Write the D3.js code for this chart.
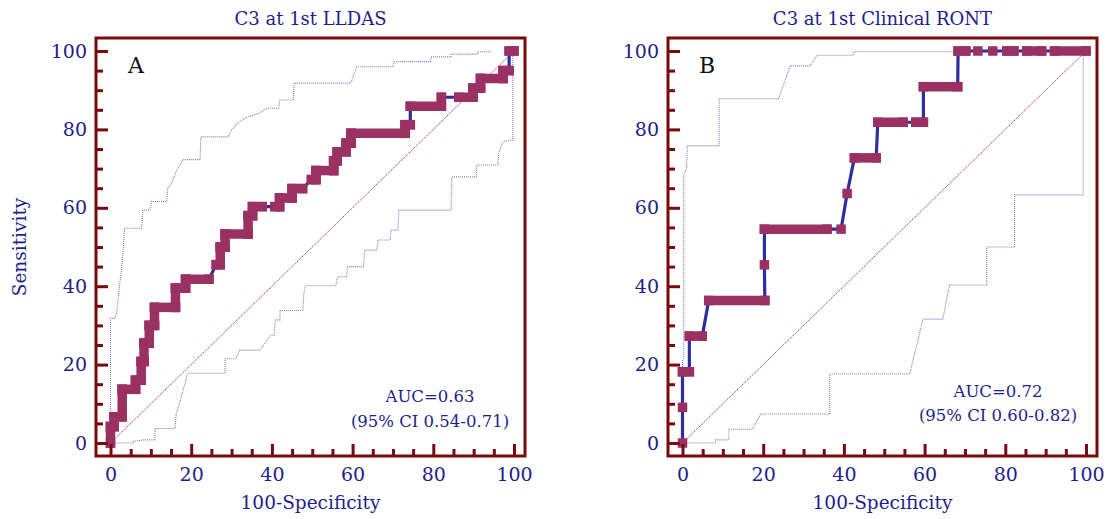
<!DOCTYPE html>
<html>
<head>
<meta charset="utf-8">
<script src="https://cdn.jsdelivr.net/npm/d3@7"></script>
<style>
  body { margin: 0; background: #fff; }
  svg text { font-family: "DejaVu Serif", serif; }
</style>
</head>
<body>
<svg id="chart" width="1107" height="519"></svg>
<script>
// Datos
const titles = ["C3 at 1st LLDAS", "C3 at 1st Clinical RONT"];
const letters = ["A", "B"];
const aucText = [["AUC=0.63", "(95% CI 0.54-0.71)"], ["AUC=0.72", "(95% CI 0.60-0.82)"]];
const majorTicks = [0, 20, 40, 60, 80, 100];
const minorTicks = [5, 10, 15, 25, 30, 35, 45, 50, 55, 65, 70, 75, 85, 90, 95];

// curva ROC: [100-especificidad, sensibilidad, tramo cubierto por marcadores]
const rocA = [
  [0,0,0],[0,4.2,1],[0.9,4.2,1],[0.9,6.7,1],[2.9,6.7,1],[2.9,13.7,1],[6.2,13.7,1],
  [6.2,16,1],[7.6,16,1],[7.6,20.8,1],[8.3,20.8,1],[8.3,25.5,1],[9.6,25.5,1],[9.6,30,1],
  [10.9,30,1],[10.9,34.6,1],[16.1,34.6,1],[16.1,39.5,1],[18.6,39.5,1],[18.6,41.8,1],
  [24.4,41.8,1],[26.2,45.5,0],[27.2,45.5,1],[27.2,50,1],[28.4,50,1],[28.4,53.3,1],
  [34.1,53.3,1],[34.1,58,1],[35.2,58,1],[35.2,60.3,1],[37.6,60.3,1],[40.7,60.3,0],
  [41.9,60.3,1],[41.9,62.5,1],[45,62.5,1],[45,64.9,1],[47.6,64.9,1],[49.8,67.2,0],
  [50.9,67.2,1],[50.9,69.5,1],[55.3,69.5,1],[55.3,72,1],[56.2,72,1],[56.2,74.3,1],
  [58.4,74.3,1],[58.4,76.5,1],[59.6,76.5,1],[59.6,79,1],[73,79,1],[73,81.2,1],
  [74.3,81.2,1],[74.3,85.9,0],[82,85.9,1],[82,88.2,1],[86.3,88.2,0],[89.8,88.2,1],
  [89.8,90.5,1],[91.7,90.5,1],[91.7,93,1],[97.3,93,1],[97.3,95,1],[98.8,95,1],
  [98.8,100,0],[100,100,1]
];
const ciUpA = [
  [0,0],[0,31.8],[1.1,31.8],[1.5,33],[2.3,40.7],[2.8,45],[3.2,50],[3.5,54.8],[7.7,54.8],
  [8,59.4],[9.7,59.4],[10.2,61.6],[13.9,61.6],[14.2,65],[15,66],[16.4,69.6],[17.2,71],
  [17.9,72.3],[22.2,72.3],[22.4,78.1],[29.2,78.1],[30,79.8],[31.5,81.6],[34,83.2],
  [37,84.2],[38.8,85.4],[41.6,85.4],[42,87.5],[45.3,87.5],[45.5,91.8],[59.5,91.8],
  [60,93],[61,96],[70,96],[70.3,97.3],[79.4,97.3],[79.4,98.5],[84.4,98.5],[84.4,99.2],
  [91,99.2],[91,99.8],[94.3,99.8]
];
const ciLoA = [
  [0,0],[5.6,0],[5.6,0.4],[8,0.8],[11,0.8],[11,3.7],[16,3.7],[16.3,7.6],[16.7,8.8],
  [17.3,11],[17.8,12.7],[19,17.3],[19.2,17.8],[28.4,17.8],[28.4,21.5],[30.9,21.5],
  [31.5,22.4],[32,23.7],[37,23.7],[38,25],[39.6,27.5],[40.6,27.5],[40.8,31.4],
  [42,31.4],[42,33.8],[47.7,33.8],[47.9,38],[48.3,40.1],[55.8,40.1],[56.3,42.4],
  [58.5,42.4],[58.7,45],[62.7,45],[63,49.2],[66,49.2],[66.3,51.8],[69.3,51.8],
  [69.5,54.3],[71.2,54.3],[71.5,59.4],[84.4,59.4],[84.6,67.9],[90.6,67.9],[90.8,70.9],
  [96,70.9],[96.2,73.9],[97.3,76.9],[99.7,77.3],[99.7,99],[100,100]
];

const rocB = [
  [0,0,0],[0,9.09,0],[0,18.18,0],[1.7,18.18,1],[1.7,27.27,0],[4.9,27.27,1],
  [6.5,36.36,0],[20.4,36.36,1],[20.3,45.45,0],[20.3,54.55,0],[35.8,54.55,1],
  [39.3,54.55,0],[40.8,63.64,0],[42.6,72.73,0],[48,72.73,1],[48.4,81.82,0],
  [54.7,81.82,1],[57.8,81.82,0],[59.7,81.82,1],[59.7,90.91,0],[68.2,90.91,1],
  [68.3,100,0],[70.2,100,1],[73.2,100,0],[76.9,100,0],[80.4,100,0],[82.1,100,1],
  [85.3,100,0],[89,100,1],[92.2,100,0],[100,100,1]
];
const ciUpB = [
  [0,0],[0,21],[0.3,22],[0.3,68.4],[1,70],[1.2,75.8],[9.1,75.8],[9.1,87.8],[23.8,87.8],
  [26.7,96.2],[31.6,96.2],[33.3,98.9],[42.3,98.9],[42.5,99.8],[67,99.8],[100,100]
];
const ciLoB = [
  [0,0],[8.2,0],[8.2,0.8],[11.5,0.8],[11.5,3.5],[17.3,3.5],[19.4,7.4],[36.5,7.4],
  [36.5,17.6],[56.3,17.6],[59.6,31.6],[64.5,31.6],[66.2,40.3],[75.4,40.3],[75.4,50],
  [82.3,50],[82.3,63.3],[99.3,63.3],[99.3,99.4],[100,100]
];

// Colores
const frameColor = "#7a0a0a",
      navy = "#1e1e8c",
      curveBlue = "#2e2f9c",
      markColor = "#9b3162",
      ciColor = "#7c7cc2",
      diagColor = "#a8464e";

const svg = d3.select("#chart");

const panelW = 429, panelH = 418;
const x = d3.scaleLinear().domain([0, 100]).range([14.5, 418]);
const y = d3.scaleLinear().domain([0, 100]).range([405, 13]);
const line = d3.line().x(d => x(d[0])).y(d => y(d[1]));

drawPanel(96, 38, 0, rocA, ciUpA, ciLoA, { x: 334, y1: 364, y2: 389 });
drawPanel(668, 38, 1, rocB, ciUpB, ciLoB, { x: 330, y1: 359, y2: 383 });

// Etiqueta eje Y (solo panel A)
svg.append("text")
  .attr("transform", "translate(26,247) rotate(-90)")
  .attr("text-anchor", "middle")
  .style("font-size", "18.5px")
  .style("fill", navy)
  .text("Sensitivity");

function drawPanel(left, top, i, roc, ciUp, ciLo, aucPos) {
  const g = svg.append("g").attr("transform", `translate(${left},${top})`);

  // Título
  g.append("text")
    .attr("x", panelW / 2).attr("y", -13)
    .attr("text-anchor", "middle")
    .style("font-size", "18px")
    .style("fill", navy)
    .text(titles[i]);

  // Diagonal de referencia
  g.append("path")
    .attr("d", line([[0, 0], [100, 100]]))
    .style("fill", "none")
    .style("stroke", diagColor)
    .style("stroke-width", 1)
    .style("stroke-dasharray", "1.5,0.8");

  // Intervalos de confianza
  [ciUp, ciLo].forEach(ci => {
    g.append("path")
      .attr("d", line(ci))
      .style("fill", "none")
      .style("stroke", ciColor)
      .style("stroke-width", 1.1)
      .style("stroke-dasharray", "1,1");
  });

  // Curva ROC (línea azul)
  g.append("path")
    .attr("d", line(roc))
    .style("fill", "none")
    .style("stroke", curveBlue)
    .style("stroke-width", 3.2);

  // Tramos cubiertos por marcadores
  const segs = roc.slice(1).map((d, k) => [roc[k], d]).filter(p => p[1][2]);
  g.selectAll("line.seg")
    .data(segs)
    .enter().append("line")
      .attr("class", "seg")
      .attr("x1", d => x(d[0][0])).attr("y1", d => y(d[0][1]))
      .attr("x2", d => x(d[1][0])).attr("y2", d => y(d[1][1]))
      .style("stroke", markColor)
      .style("stroke-width", 9.5)
      .style("stroke-linecap", "square");

  // Marcadores
  g.selectAll("rect.mk")
    .data(roc)
    .enter().append("rect")
      .attr("class", "mk")
      .attr("x", d => x(d[0]) - 4.75)
      .attr("y", d => y(d[1]) - 4.75)
      .attr("width", 9.5).attr("height", 9.5)
      .style("fill", markColor);

  // Ejes
  const yMajor = g.append("g")
    .call(d3.axisLeft(y).tickValues(majorTicks).tickSize(-12).tickPadding(9));
  const yMinor = g.append("g")
    .call(d3.axisLeft(y).tickValues(minorTicks).tickSize(-7).tickFormat(""));
  const xMajor = g.append("g").attr("transform", `translate(0,${panelH})`)
    .call(d3.axisBottom(x).tickValues(majorTicks).tickSize(-12).tickPadding(12));
  const xMinor = g.append("g").attr("transform", `translate(0,${panelH})`)
    .call(d3.axisBottom(x).tickValues(minorTicks).tickSize(-7).tickFormat(""));

  [yMajor, yMinor, xMajor, xMinor].forEach(a => {
    a.select(".domain").remove();
    a.selectAll("line").style("stroke", frameColor).style("stroke-width", 3);
    a.selectAll("text")
      .style("font-family", "DejaVu Serif")
      .style("font-size", "19px")
      .style("fill", navy);
  });

  // Marco
  g.append("rect")
    .attr("width", panelW).attr("height", panelH)
    .style("fill", "none")
    .style("stroke", frameColor)
    .style("stroke-width", 3);

  // Letra del panel
  g.append("text")
    .attr("x", i === 0 ? 32 : 31).attr("y", 35)
    .style("font-size", "22px")
    .style("fill", "#111")
    .text(letters[i]);

  // AUC
  g.append("text")
    .attr("x", aucPos.x).attr("y", aucPos.y1)
    .attr("text-anchor", "middle")
    .style("font-size", "16.5px")
    .style("fill", navy)
    .text(aucText[i][0]);
  g.append("text")
    .attr("x", aucPos.x).attr("y", aucPos.y2)
    .attr("text-anchor", "middle")
    .style("font-size", "16.5px")
    .style("fill", navy)
    .text(aucText[i][1]);

  // Etiqueta eje X
  g.append("text")
    .attr("x", panelW / 2).attr("y", 471)
    .attr("text-anchor", "middle")
    .style("font-size", "18.5px")
    .style("fill", navy)
    .text("100-Specificity");
}
</script>
</body>
</html>
